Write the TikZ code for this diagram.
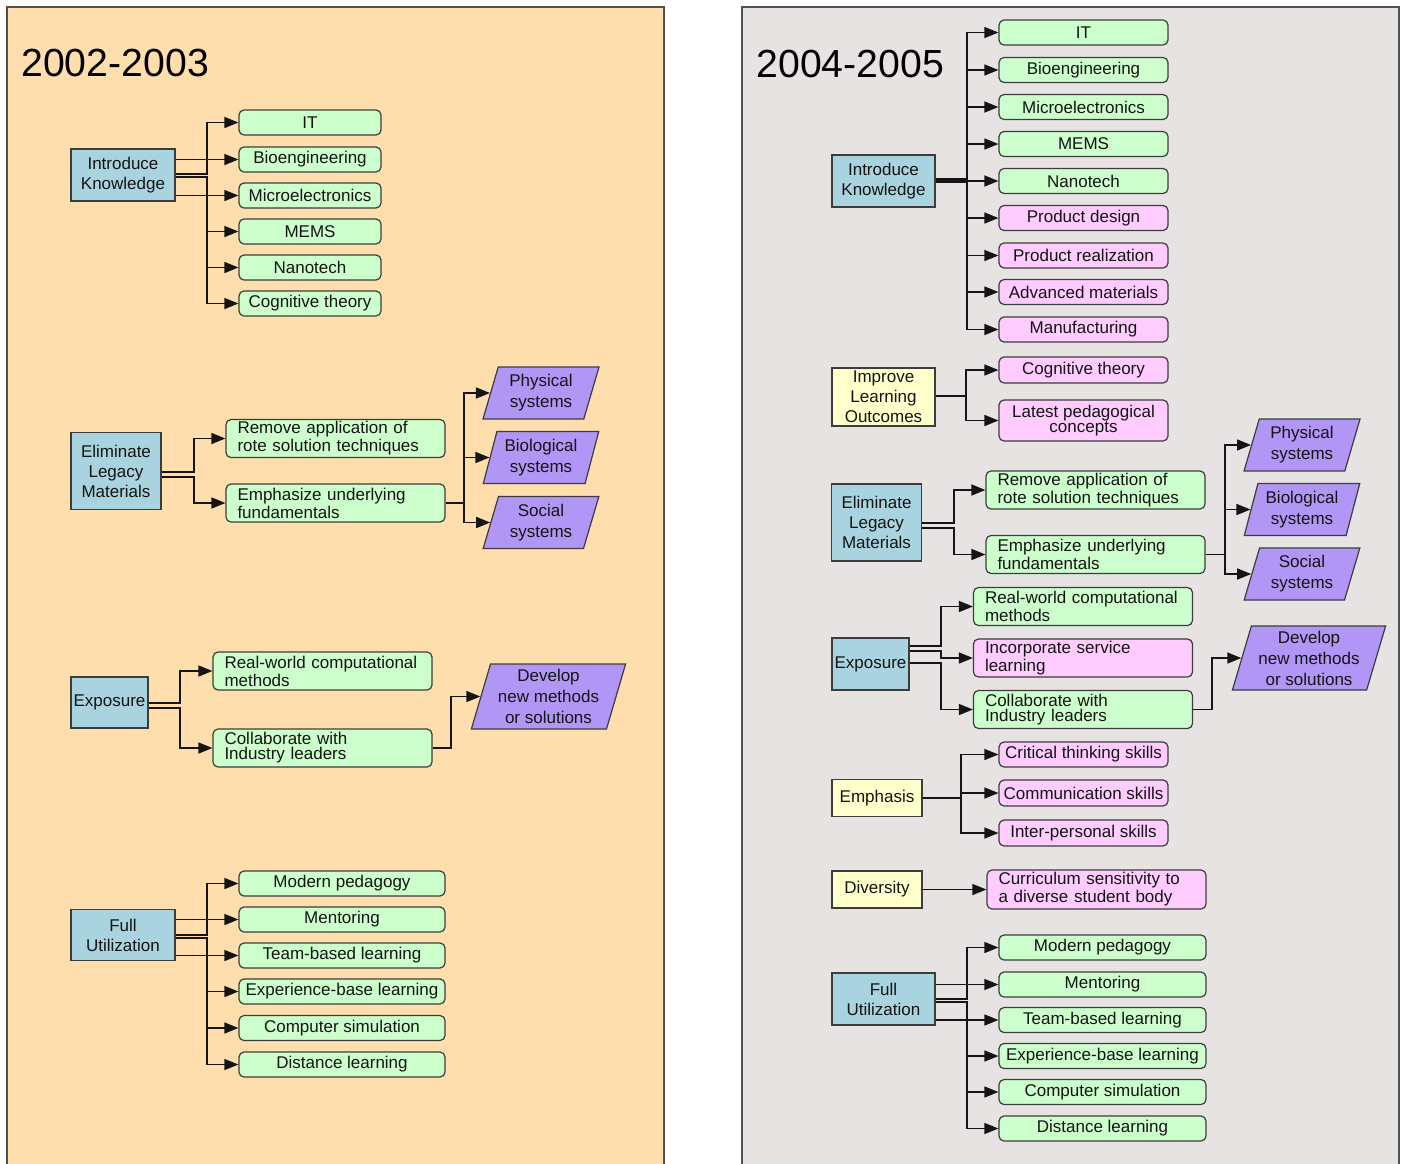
\documentclass[tikz,border=0pt]{standalone}
\usepackage{fontspec}
\setmainfont{Liberation Sans}
\usetikzlibrary{arrows.meta,shapes.geometric}
\definecolor{PeachPanel}{HTML}{FFDEAD}
\definecolor{GreyPanel}{HTML}{E7E3E3}
\definecolor{PanelEdge}{HTML}{505050}
\definecolor{TopicBlue}{HTML}{A9D3DF}
\definecolor{GoalYellow}{HTML}{FFFFCC}
\definecolor{ItemGreen}{HTML}{CCFFCC}
\definecolor{ItemPink}{HTML}{FFCCFF}
\definecolor{OutcomeViolet}{HTML}{B296F5}
\definecolor{BoxEdge}{HTML}{3C3C3C}
\definecolor{Ink}{HTML}{141414}

\begin{document}
\begin{tikzpicture}[x=0.5pt, y=-0.5pt,
    box/.style={draw=BoxEdge, line width=0.6pt, inner sep=0pt, text=Ink, align=center, font=\fontsize{8.5}{10}\selectfont},
    wh/.style 2 args={minimum width=#1*0.5pt, minimum height=#2*0.5pt},
    topic/.style={box, fill=TopicBlue},
    goal/.style={box, fill=GoalYellow},
    item/.style={box, rounded corners=2.5pt, fill=ItemGreen},
    newitem/.style={item, fill=ItemPink},
    twoline/.style={font=\fontsize{8.5}{7.5}\selectfont},
    ltext/.style={twoline, align=left, text width=98pt},
    outcome/.style={box, fill=OutcomeViolet, trapezium, trapezium left angle=73, trapezium right angle=107, trapezium stretches=true, font=\fontsize{8.5}{10.5}\selectfont},
    year/.style={anchor=west, inner sep=0pt, text=black, font=\fontsize{19.6}{24}\selectfont},
    wire/.style={draw=Ink, line width=0.75pt},
    link/.style={wire, -{Triangle[length=7pt,width=5.5pt]}}]
    \useasboundingbox (0,0) rectangle (1406,1163);

    % the two panels
    \fill[PeachPanel] (7,7) rectangle (664,1175);
    \draw[PanelEdge, line width=0.6pt] (7,1175) -- (7,7) -- (664,7) -- (664,1175);
    \fill[GreyPanel] (742,7) rectangle (1399,1175);
    \draw[PanelEdge, line width=0.6pt] (742,1175) -- (742,7) -- (1399,7) -- (1399,1175);

    % 2002-2003
    \node[year] (y1) at (21,63) {2002-2003};

    \node[topic, wh={104}{52}] (ik1) at (123,175) {Introduce\\Knowledge};
    \node[item, wh={142}{25}] (it1) at (310,122.5) {IT};
    \node[item, wh={142}{25}] (bio1) at (310,159.5) {Bioengineering};
    \node[item, wh={142}{25}] (mic1) at (310,195.5) {Microelectronics};
    \node[item, wh={142}{25}] (mems1) at (310,231.5) {MEMS};
    \node[item, wh={142}{25}] (nano1) at (310,267.5) {Nanotech};
    \node[item, wh={142}{25}] (cog1) at (310,303.5) {Cognitive theory};
    \coordinate (ik1a) at (207,174);
    \coordinate (ik1b) at (207,177);
    \draw[link] (ik1.east |- ik1a) -- (ik1a) |- (it1.west);
    \draw[link] (ik1.east |- bio1.west) -- (bio1.west);
    \draw[link] (ik1.east |- mic1.west) -- (mic1.west);
    \draw[link] (ik1.east |- ik1b) -- (ik1b) |- (mems1.west);
    \draw[link] (ik1.east |- ik1b) -- (ik1b) |- (nano1.west);
    \draw[link] (ik1.east |- ik1b) -- (ik1b) |- (cog1.west);

    \node[topic, wh={90}{77}] (elm1) at (116,471) {Eliminate\\Legacy\\Materials};
    \node[item, ltext, wh={219}{38}] (rem1) at (335.5,438.5) {Remove application of\\rote solution techniques};
    \node[item, ltext, wh={219}{38}] (emp1) at (335.5,503) {Emphasize underlying\\fundamentals};
    \node[outcome, wh={116}{52}] (phys1) at (541,393) {Physical\\systems};
    \node[outcome, wh={116}{52}] (biol1) at (541,457.5) {Biological\\systems};
    \node[outcome, wh={116}{52}] (soc1) at (541,522.5) {Social\\systems};
    \coordinate (elm1a) at (194,472);
    \coordinate (elm1b) at (194,477);
    \draw[link] (elm1.east |- elm1a) -- (elm1a) |- (rem1.west);
    \draw[link] (elm1.east |- elm1b) -- (elm1b) |- (emp1.west);
    \coordinate (emp1t) at (464,503);
    \draw[link] (emp1.east) -- (emp1t) |- (phys1.left side);
    \draw[link] (emp1.east) -- (emp1t) |- (biol1.left side);
    \draw[link] (emp1.east) -- (emp1t) |- (soc1.left side);

    \node[topic, wh={77}{51}] (exp1) at (109.5,702.5) {Exposure};
    \node[item, ltext, wh={219}{38}] (rw1) at (322.5,671) {Real-world computational\\methods};
    \node[item, ltext, wh={219}{38}] (col1) at (322.5,748) {Collaborate with\\Industry leaders};
    \node[outcome, wh={155}{65}] (dev1) at (548.5,696.5) {Develop\\new methods\\or solutions};
    \coordinate (exp1a) at (180,703);
    \coordinate (exp1b) at (180,708);
    \draw[link] (exp1.east |- exp1a) -- (exp1a) |- (rw1.west);
    \draw[link] (exp1.east |- exp1b) -- (exp1b) |- (col1.west);
    \coordinate (col1t) at (451,748);
    \draw[link] (col1.east) -- (col1t) |- (dev1.left side);

    \node[topic, wh={104}{51}] (fu1) at (123,935) {Full\\Utilization};
    \node[item, wh={206}{25}] (mod1) at (342,883.5) {Modern pedagogy};
    \node[item, wh={206}{25}] (men1) at (342,919.5) {Mentoring};
    \node[item, wh={206}{25}] (team1) at (342,955.5) {Team-based learning};
    \node[item, wh={206}{25}] (exb1) at (342,991.5) {Experience-base learning};
    \node[item, wh={206}{25}] (sim1) at (342,1028) {Computer simulation};
    \node[item, wh={206}{25}] (dist1) at (342,1064.5) {Distance learning};
    \coordinate (fu1a) at (207,935);
    \coordinate (fu1b) at (207,938);
    \draw[link] (fu1.east |- fu1a) -- (fu1a) |- (mod1.west);
    \draw[link] (fu1.east |- men1.west) -- (men1.west);
    \draw[link] (fu1.east |- team1.west) -- (team1.west);
    \draw[link] (fu1.east |- fu1b) -- (fu1b) |- (exb1.west);
    \draw[link] (fu1.east |- fu1b) -- (fu1b) |- (sim1.west);
    \draw[link] (fu1.east |- fu1b) -- (fu1b) |- (dist1.west);

    % 2004-2005
    \node[year] (y2) at (756,64) {2004-2005};

    \node[topic, wh={103}{52}] (ik2) at (883.5,181) {Introduce\\Knowledge};
    \node[item, wh={169}{25}] (it2) at (1083.5,32.5) {IT};
    \node[item, wh={169}{25}] (bio2) at (1083.5,70) {Bioengineering};
    \node[item, wh={169}{25}] (mic2) at (1083.5,107) {Microelectronics};
    \node[item, wh={169}{25}] (mems2) at (1083.5,144) {MEMS};
    \node[item, wh={169}{25}] (nano2) at (1083.5,181) {Nanotech};
    \node[newitem, wh={169}{25}] (pd2) at (1083.5,218) {Product design};
    \node[newitem, wh={169}{25}] (pr2) at (1083.5,255.5) {Product realization};
    \node[newitem, wh={169}{25}] (am2) at (1083.5,292) {Advanced materials};
    \node[newitem, wh={169}{25}] (mf2) at (1083.5,329.5) {Manufacturing};
    \coordinate (ik2a) at (967,179);
    \coordinate (ik2b) at (967,182.5);
    \draw[link] (ik2.east |- ik2a) -- (ik2a) |- (it2.west);
    \draw[link] (ik2.east |- ik2a) -- (ik2a) |- (bio2.west);
    \draw[link] (ik2.east |- ik2a) -- (ik2a) |- (mic2.west);
    \draw[link] (ik2.east |- ik2a) -- (ik2a) |- (mems2.west);
    \draw[link] (ik2.east |- nano2.west) -- (nano2.west);
    \draw[link] (ik2.east |- ik2b) -- (ik2b) |- (pd2.west);
    \draw[link] (ik2.east |- ik2b) -- (ik2b) |- (pr2.west);
    \draw[link] (ik2.east |- ik2b) -- (ik2b) |- (am2.west);
    \draw[link] (ik2.east |- ik2b) -- (ik2b) |- (mf2.west);

    \node[goal, wh={103}{58}] (imp2) at (883.5,397) {Improve\\Learning\\Outcomes};
    \node[newitem, wh={169}{26}] (cog2) at (1083.5,370) {Cognitive theory};
    \node[newitem, twoline, wh={169}{41}] (lat2) at (1083.5,420.5) {Latest pedagogical\\concepts};
    \coordinate (imp2t) at (966,396);
    \draw[link] (imp2.east |- imp2t) -- (imp2t) |- (cog2.west);
    \draw[link] (imp2.east |- imp2t) -- (imp2t) |- (lat2.west);

    \node[topic, wh={90}{77}] (elm2) at (876.5,522.5) {Eliminate\\Legacy\\Materials};
    \node[item, ltext, wh={219}{38}] (rem2) at (1095.5,490) {Remove application of\\rote solution techniques};
    \node[item, ltext, wh={219}{38}] (emp2) at (1095.5,554.5) {Emphasize underlying\\fundamentals};
    \node[outcome, wh={116}{52}] (phys2) at (1302,445) {Physical\\systems};
    \node[outcome, wh={116}{52}] (biol2) at (1302,509.5) {Biological\\systems};
    \node[outcome, wh={116}{52}] (soc2) at (1302,574) {Social\\systems};
    \coordinate (elm2a) at (954,523);
    \coordinate (elm2b) at (954,528);
    \draw[link] (elm2.east |- elm2a) -- (elm2a) |- (rem2.west);
    \draw[link] (elm2.east |- elm2b) -- (elm2b) |- (emp2.west);
    \coordinate (emp2t) at (1225,554.5);
    \draw[link] (emp2.east) -- (emp2t) |- (phys2.left side);
    \draw[link] (emp2.east) -- (emp2t) |- (biol2.left side);
    \draw[link] (emp2.east) -- (emp2t) |- (soc2.left side);

    \node[topic, wh={77}{52}] (exp2) at (870.5,664) {Exposure};
    \node[item, ltext, wh={219}{38}] (rw2) at (1083,606.5) {Real-world computational\\methods};
    \node[newitem, ltext, wh={219}{38}] (inc2) at (1083,658) {Incorporate service\\learning};
    \node[item, ltext, wh={219}{38}] (col2) at (1083,709.5) {Collaborate with\\Industry leaders};
    \node[outcome, wh={154}{64}] (dev2) at (1309,658) {Develop\\new methods\\or solutions};
    \coordinate (exp2a) at (941,646);
    \coordinate (exp2b) at (941,651);
    \coordinate (exp2c) at (941,663);
    \draw[link] (exp2.east |- exp2a) -- (exp2a) |- (rw2.west);
    \draw[link] (exp2.east |- exp2b) -- (exp2b) |- (inc2.west);
    \draw[link] (exp2.east |- exp2c) -- (exp2c) |- (col2.west);
    \coordinate (col2t) at (1212,709.5);
    \draw[link] (col2.east) -- (col2t) |- (dev2.left side);

    \node[goal, wh={90}{37}] (emph2) at (877,798) {Emphasis};
    \node[newitem, wh={169}{25}] (crit2) at (1083.5,754.5) {Critical thinking skills};
    \node[newitem, wh={169}{26}] (comm2) at (1083.5,793) {Communication skills};
    \node[newitem, wh={169}{26}] (inter2) at (1083.5,833) {Inter-personal skills};
    \coordinate (emph2t) at (961,798);
    \draw[link] (emph2.east) -- (emph2t) |- (crit2.west);
    \draw[link] (emph2.east) -- (emph2t) |- (comm2.west);
    \draw[link] (emph2.east) -- (emph2t) |- (inter2.west);

    \node[goal, wh={90}{37}] (div2) at (877,889.5) {Diversity};
    \node[newitem, ltext, wh={219}{39}] (cur2) at (1096.5,889.5) {Curriculum sensitivity to\\a diverse student body};
    \draw[link] (div2.east) -- (cur2.west);

    \node[topic, wh={103}{52}] (fu2) at (883.5,999) {Full\\Utilization};
    \node[item, wh={207}{25}] (mod2) at (1102.5,947.5) {Modern pedagogy};
    \node[item, wh={207}{25}] (men2) at (1102.5,984.5) {Mentoring};
    \node[item, wh={207}{25}] (team2) at (1102.5,1020) {Team-based learning};
    \node[item, wh={207}{25}] (exb2) at (1102.5,1056) {Experience-base learning};
    \node[item, wh={207}{25}] (sim2) at (1102.5,1092) {Computer simulation};
    \node[item, wh={207}{25}] (dist2) at (1102.5,1128.5) {Distance learning};
    \coordinate (fu2a) at (967,999);
    \coordinate (fu2b) at (967,1002);
    \draw[link] (fu2.east |- fu2a) -- (fu2a) |- (mod2.west);
    \draw[link] (fu2.east |- men2.west) -- (men2.west);
    \draw[link] (fu2.east |- team2.west) -- (team2.west);
    \draw[link] (fu2.east |- fu2b) -- (fu2b) |- (exb2.west);
    \draw[link] (fu2.east |- fu2b) -- (fu2b) |- (sim2.west);
    \draw[link] (fu2.east |- fu2b) -- (fu2b) |- (dist2.west);
\end{tikzpicture}
\end{document}
